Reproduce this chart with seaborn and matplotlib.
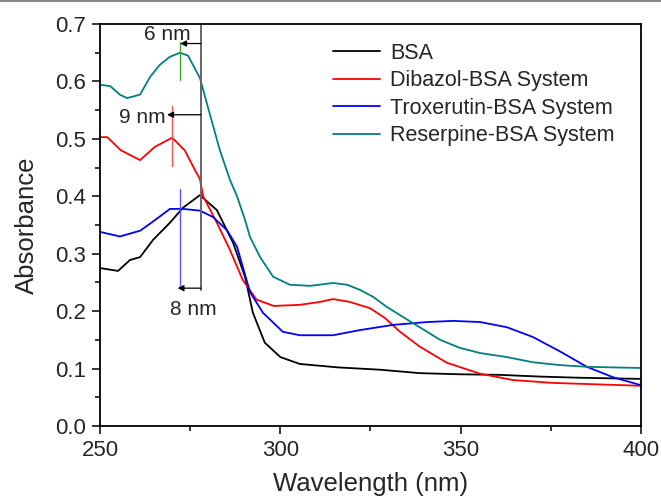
import seaborn as sns
import matplotlib.pyplot as plt
import pandas as pd
from matplotlib.lines import Line2D

sns.set_theme(style='ticks')
plt.rcParams['font.family'] = ['Liberation Sans', 'DejaVu Sans']

# UV-vis spectra
bsa_wl = [250, 255, 258.3, 261.1, 264.7, 269.4, 273, 277.7, 282.4, 286.9, 290.2, 292.4,
          295.7, 300, 305.4, 316, 327.6, 338.7, 349.8, 360.9, 372, 383, 400]
bsa_abs = [0.275, 0.27, 0.289, 0.294, 0.324, 0.354, 0.38, 0.402, 0.376, 0.319, 0.26, 0.197,
           0.145, 0.12, 0.108, 0.102, 0.098, 0.092, 0.09, 0.089, 0.086, 0.084, 0.082]

dib_wl = [250, 252, 255.8, 261.1, 265.2, 270, 273.5, 276.3, 277.7, 278.6, 282.4, 286, 289.6,
          293.4, 298.2, 305.4, 311, 314.6, 319.3, 324.9, 329, 333.2, 338.7, 346.2, 355.4,
          364.5, 375.6, 400]
dib_abs = [0.503, 0.503, 0.48, 0.463, 0.486, 0.502, 0.48, 0.446, 0.43, 0.40, 0.354, 0.307, 0.254,
           0.22, 0.209, 0.211, 0.216, 0.221, 0.216, 0.205, 0.188, 0.164, 0.138, 0.11, 0.091,
           0.08, 0.075, 0.07]

trox_wl = [250, 255.5, 261.1, 264.7, 269.4, 273, 277.7, 281.3, 285.2, 288, 291.6, 295.2,
           300.7, 305.4, 314.6, 322.1, 331.2, 340.7, 347.9, 355.4, 362.8, 370, 377.5, 385,
           392.2, 400]
trox_abs = [0.338, 0.33, 0.34, 0.356, 0.378, 0.378, 0.375, 0.364, 0.341, 0.312, 0.233, 0.197,
            0.164, 0.158, 0.158, 0.167, 0.176, 0.181, 0.183, 0.181, 0.172, 0.155, 0.13, 0.103,
            0.085, 0.071]

res_wl = [250, 252.8, 255.5, 257.5, 261.1, 263.9, 266.6, 269.4, 272.2, 274.4, 277.7, 280.5,
          283.2, 286, 288, 290.2, 291.6, 294.4, 298, 302.6, 308.2, 314.6, 318.5, 322.1, 325.7,
          329.6, 333.2, 336.8, 340.7, 344.3, 349.8, 355.4, 362.8, 370, 377.5, 385, 400]
res_abs = [0.594, 0.592, 0.577, 0.571, 0.577, 0.608, 0.629, 0.643, 0.65, 0.645, 0.606, 0.542,
           0.481, 0.429, 0.40, 0.359, 0.329, 0.294, 0.26, 0.246, 0.244, 0.249, 0.246, 0.237,
           0.225, 0.207, 0.193, 0.179, 0.164, 0.15, 0.136, 0.127, 0.12, 0.111, 0.106, 0.103,
           0.101]

names = ['BSA', 'Dibazol-BSA System', 'Troxerutin-BSA System', 'Reserpine-BSA System']
colors = ['black', '#ff0000', '#0000ff', '#008080']

frames = []
for name, wl, ab in zip(names, [bsa_wl, dib_wl, trox_wl, res_wl],
                        [bsa_abs, dib_abs, trox_abs, res_abs]):
    frames.append(pd.DataFrame({'wl': wl, 'abs': ab, 'sample': name}))
df = pd.concat(frames, ignore_index=True)

fig = plt.figure(figsize=(6.61, 4.97), dpi=100)
ax = fig.add_axes([0.1513, 0.1429, 0.8184, 0.8088])

sns.lineplot(data=df, x='wl', y='abs', hue='sample', hue_order=names,
             palette=colors, estimator=None, sort=True, lw=1.3, ax=ax)

# peak shift marks
ax.plot([278, 278], [0.237, 0.7], color='#666666', lw=1.4)
ax.plot([272.2, 272.2], [0.603, 0.669], color='#33aa33', lw=1)
ax.plot([270, 270], [0.453, 0.557], color='#ff5555', lw=1)
ax.plot([272.2, 272.2], [0.242, 0.413], color='#5555ff', lw=1)

arrow = dict(arrowstyle='-|>', color='black', lw=0.9, mutation_scale=9, shrinkA=0, shrinkB=0)
ax.annotate('', xy=(272.2, 0.666), xytext=(278, 0.666), arrowprops=arrow)
ax.annotate('', xy=(268.6, 0.542), xytext=(278, 0.542), arrowprops=arrow)
ax.annotate('', xy=(271.5, 0.24), xytext=(278, 0.24), arrowprops=arrow)
ax.text(268.8, 0.682, '6 nm', fontsize=15, ha='center', va='center')
ax.text(261.8, 0.538, '9 nm', fontsize=15, ha='center', va='center')
ax.text(276, 0.202, '8 nm', fontsize=15, ha='center', va='center')

ax.set_xlim(250, 400)
ax.set_ylim(0, 0.7)
ax.set_xticks([250, 300, 350, 400])
ax.set_xticks([275, 325, 375], minor=True)
ax.set_yticks([0.0, 0.1, 0.2, 0.3, 0.4, 0.5, 0.6, 0.7])
ax.set_yticks([0.05, 0.15, 0.25, 0.35, 0.45, 0.55, 0.65], minor=True)
ax.set_yticklabels(['0.0', '0.1', '0.2', '0.3', '0.4', '0.5', '0.6', '0.7'])
ax.tick_params(which='major', direction='out', length=6, width=1.1, labelsize=16, pad=4, color='black')
ax.tick_params(which='minor', direction='out', length=3.5, width=1.1, color='black')
for s in ax.spines.values():
    s.set_linewidth(1.3)
    s.set_color('black')

ax.set_xlabel('Wavelength (nm)', fontsize=18.5, labelpad=8)
ax.set_ylabel('Absorbance', fontsize=18.5, labelpad=12)

leg = ax.legend(loc='upper right', bbox_to_anchor=(0.975, 0.985), frameon=False, fontsize=15.5,
                handlelength=2.2, handletextpad=0.45, labelspacing=0.3, borderaxespad=0.2)
for h in leg.get_lines():
    h.set_linewidth(1.3)

fig.add_artist(Line2D([0, 1], [0.998, 0.998], transform=fig.transFigure, color='#888888', lw=1.5))

fig.savefig('out.png', dpi=100)
